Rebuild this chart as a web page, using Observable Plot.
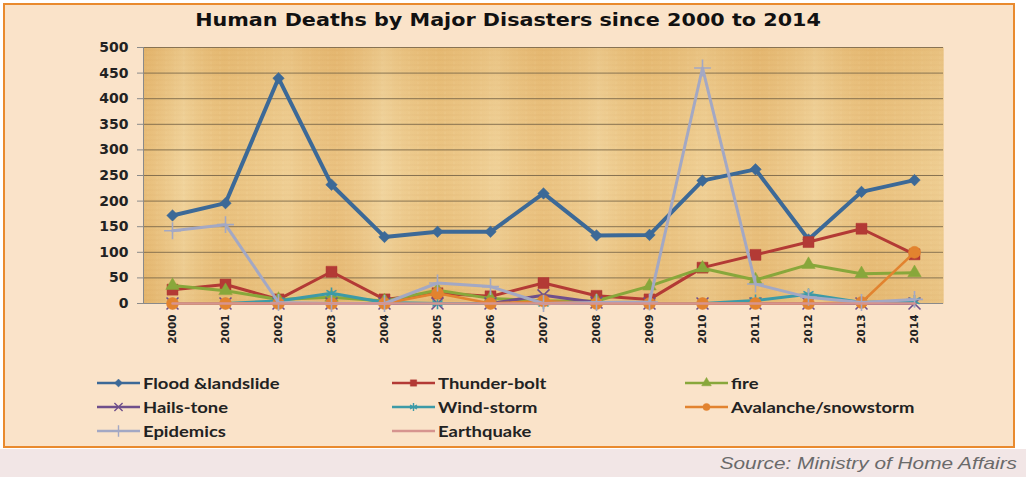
<!DOCTYPE html>
<html>
<head>
<meta charset="utf-8">
<script src="https://cdn.jsdelivr.net/npm/d3@7"></script>
<script src="https://cdn.jsdelivr.net/npm/@observablehq/plot@0.6"></script>
<style>
  html, body { margin: 0; padding: 0; }
  body { width: 1026px; height: 477px; position: relative; background: #ffffff; overflow: hidden; }
  #panel { position: absolute; left: 3px; top: 3px; width: 1012px; height: 445px; box-sizing: border-box;
           border: 2px solid #e98a2e; background: #fae3c9; }
  #foot { position: absolute; left: 0; top: 449px; width: 1026px; height: 28px; background: #f2e6e6; }
  #title { position: absolute; left: 0; width: 1016px; top: 9px; text-align: center;
           font-family: "DejaVu Sans", sans-serif; font-weight: bold; font-size: 18px; color: #111;
           transform: scaleX(1.15); transform-origin: 508px 0; }
  #chart { position: absolute; left: 0; top: 30px; }
  #legend { position: absolute; left: 0; top: 0; }
  .item { position: absolute; height: 18px; display: flex; align-items: center;
          font-family: Lato, "Open Sans", sans-serif; font-weight: bold; font-size: 14.5px; color: #222; white-space: nowrap; }
  .item svg { margin-right: 2px; }
  .item span { display: inline-block; transform: scaleX(1.27); transform-origin: 0 50%; }
  #source { position: absolute; right: 9px; top: 454px; font-family: "Liberation Sans", Arial, sans-serif;
            font-style: italic; font-size: 16.5px; color: #6a6a6a; transform: scaleX(1.26); transform-origin: 100% 50%; }
</style>
</head>
<body>
<div id="panel"></div>
<div id="foot"></div>
<div id="title">Human Deaths by Major Disasters since 2000 to 2014</div>
<div id="chart"></div>
<div id="legend"></div>
<div id="source">Source: Ministry of Home Affairs</div>
<script>
// Years on the horizontal axis
const years = ["2000","2001","2002","2003","2004","2005","2006","2007","2008","2009","2010","2011","2012","2013","2014"];

// Deaths per year for each disaster type
const flood      = [172, 196, 440, 232, 130, 140, 140, 215, 133, 134, 240, 262, 125, 218, 241];
const thunder    = [ 27,  37,   8,  62,   8,  20,  14,  40,  15,   8,  70,  95, 120, 146,  96];
const fire       = [ 35,  25,   8,  12,   5,  26,  10,   5,   5,  34,  69,  46,  76,  58,  60];
const hails      = [  0,   0,   0,   0,   0,   0,   0,  16,   2,   0,   0,   0,   0,   0,   0];
const wind       = [  0,   0,   5,  20,   2,   0,   0,   0,   0,   0,   0,   6,  18,   2,   5];
const avalanche  = [  0,   0,   0,   0,   0,  20,   0,   5,   0,   0,   0,   0,   0,   2, 100];
const epidemics  = [142, 154,   2,   0,   0,  40,  33,   0,   2,   3, 460,  38,  12,   2,   8];
const earthquake = [  0,   0,   0,   0,   0,   0,   0,   0,   0,   0,   0,   0,   0,   0,   0];

// Y axis tick values
const yTicks = [0, 50, 100, 150, 200, 250, 300, 350, 400, 450, 500];

// Series names, in drawing / legend order
const names = ["Flood &landslide", "Thunder-bolt", "fire", "Hails-tone", "Wind-storm",
               "Avalanche/snowstorm", "Epidemics", "Earthquake"];
const values = [flood, thunder, fire, hails, wind, avalanche, epidemics, earthquake];

// Styling per series
const style = [
  {color: "#3c6997", width: 4,   symbol: "diamond2", d3sym: d3.symbolDiamond2, r: 5.2, filled: true},
  {color: "#b33a35", width: 3,   symbol: "square",   d3sym: d3.symbolSquare,   r: 6.2, filled: true},
  {color: "#88a73b", width: 3,   symbol: "triangle", d3sym: d3.symbolTriangle, r: 5,   filled: true},
  {color: "#6f4f8b", width: 3,   symbol: "times",    d3sym: d3.symbolTimes,    r: 5.5, filled: false},
  {color: "#3c9aa7", width: 3,   symbol: "asterisk", d3sym: d3.symbolAsterisk, r: 5.5, filled: false},
  {color: "#e2832f", width: 2.5, symbol: "circle",   d3sym: d3.symbolCircle,   r: 6,   filled: true},
  {color: "#a3a8c4", width: 3,   symbol: "plus",     d3sym: d3.symbolPlus,     r: 5.5, filled: false},
  {color: "#d6948f", width: 2.5, symbol: null,       d3sym: null,              r: 0,   filled: false}
];

const rows = names.flatMap((name, i) => years.map((year, j) => ({series: name, year, value: values[i][j]})));

// Parchment texture definitions for the plotting area
function parchmentDefs() {
  const defs = d3.create("svg:defs");
  const pat = defs.append("pattern").attr("id", "parchLines")
    .attr("patternUnits", "userSpaceOnUse").attr("width", 9).attr("height", 5);
  pat.append("rect").attr("width", 9).attr("height", 5).attr("fill", "#eac37f");
  pat.append("rect").attr("y", 4).attr("width", 9).attr("height", 1).attr("fill", "#d7a862").attr("opacity", 0.45);
  pat.append("rect").attr("x", 3).attr("y", 1).attr("width", 1).attr("height", 3).attr("fill", "#f2d6a0").attr("opacity", 0.5);
  const g = defs.append("linearGradient").attr("id", "parchShade")
    .attr("x1", 0).attr("x2", 1).attr("y1", 0).attr("y2", 0);
  const stops = [
    [0.00, "#e1ad62", 0.5], [0.05, "#f4dcaa", 0.6], [0.10, "#e6b76f", 0.3], [0.18, "#f2d6a1", 0.5],
    [0.24, "#e4b06a", 0.35], [0.30, "#f5dfb0", 0.6], [0.37, "#e8ba74", 0.3], [0.44, "#f3d9a6", 0.55],
    [0.50, "#e5b36c", 0.35], [0.57, "#f4dcab", 0.55], [0.63, "#e7b870", 0.3], [0.70, "#f3d8a4", 0.5],
    [0.77, "#e4b26b", 0.35], [0.84, "#f5deae", 0.55], [0.91, "#e6b56d", 0.35], [1.00, "#f1d49d", 0.5]
  ];
  for (const [o, c, a] of stops) g.append("stop").attr("offset", o).attr("stop-color", c).attr("stop-opacity", a);
  const v = defs.append("linearGradient").attr("id", "parchFade")
    .attr("x1", 0).attr("x2", 0).attr("y1", 0).attr("y2", 1);
  v.append("stop").attr("offset", 0).attr("stop-color", "#d9a456").attr("stop-opacity", 0.25);
  v.append("stop").attr("offset", 0.5).attr("stop-color", "#f6e0b2").attr("stop-opacity", 0.15);
  v.append("stop").attr("offset", 1).attr("stop-color", "#d9a456").attr("stop-opacity", 0.2);
  return defs.node();
}

const seriesMarks = names.flatMap((name, i) => {
  const s = style[i];
  const d = rows.filter(r => r.series === name);
  const marks = [Plot.line(d, {x: "year", y: "value", stroke: s.color, strokeWidth: s.width,
                               strokeLinejoin: "round", strokeLinecap: "round"})];
  if (s.symbol) {
    marks.push(Plot.dot(d, s.filled
      ? {x: "year", y: "value", symbol: s.symbol, r: s.r, fill: s.color, stroke: s.color, strokeWidth: 0.5}
      : {x: "year", y: "value", symbol: s.symbol, r: s.r, stroke: s.color, strokeWidth: 1.6}));
  }
  return marks;
});

const chart = Plot.plot({
  width: 1026,
  height: 330,
  marginTop: 17,
  marginBottom: 57,
  marginLeft: 143,
  marginRight: 83,
  style: {background: "transparent", fontFamily: "DejaVu Sans, sans-serif", color: "#222"},
  x: {type: "point", domain: years, padding: 0.5, label: null},
  y: {domain: [0, 500], label: null},
  marks: [
    parchmentDefs,
    Plot.frame({fill: "url(#parchLines)"}),
    Plot.frame({fill: "url(#parchShade)"}),
    Plot.frame({fill: "url(#parchFade)"}),
    Plot.gridY(yTicks, {stroke: "#6e5d42", strokeOpacity: 0.8, strokeWidth: 1}),
    Plot.frame({anchor: "left", stroke: "#8a8a8a", strokeWidth: 1}),
    Plot.ruleY([0], {stroke: "#8a8a8a", strokeWidth: 1}),
    Plot.axisY(yTicks, {tickSize: 6, tickPadding: 9, fontSize: 14, fontWeight: "bold", stroke: "#8a8a8a"}),
    Plot.axisX({tickRotate: -90, tickSize: 0, tickPadding: 11, fontSize: 10.5, fontWeight: "bold"}),
    ...seriesMarks
  ]
});
document.getElementById("chart").appendChild(chart);

// Legend: three columns, three rows
const colX = [97, 392, 685];
const rowY = [374, 398, 422];
const legend = document.getElementById("legend");
names.forEach((name, i) => {
  const s = style[i];
  const item = document.createElement("div");
  item.className = "item";
  item.style.left = colX[i % 3] + "px";
  item.style.top = rowY[Math.floor(i / 3)] + "px";
  const svg = d3.create("svg").attr("width", 44).attr("height", 18);
  svg.append("line").attr("x1", 0).attr("x2", 43).attr("y1", 9).attr("y2", 9)
    .attr("stroke", s.color).attr("stroke-width", 2.5);
  if (s.d3sym) {
    const p = d3.symbol(s.d3sym, s.filled ? 40 : 45)();
    svg.append("path").attr("d", p).attr("transform", "translate(21.5,9)")
      .attr("fill", s.filled ? s.color : "none").attr("stroke", s.color).attr("stroke-width", s.filled ? 0.5 : 1.4);
  }
  item.appendChild(svg.node());
  const label = document.createElement("span");
  label.textContent = name;
  item.appendChild(label);
  legend.appendChild(item);
});
</script>
</body>
</html>
